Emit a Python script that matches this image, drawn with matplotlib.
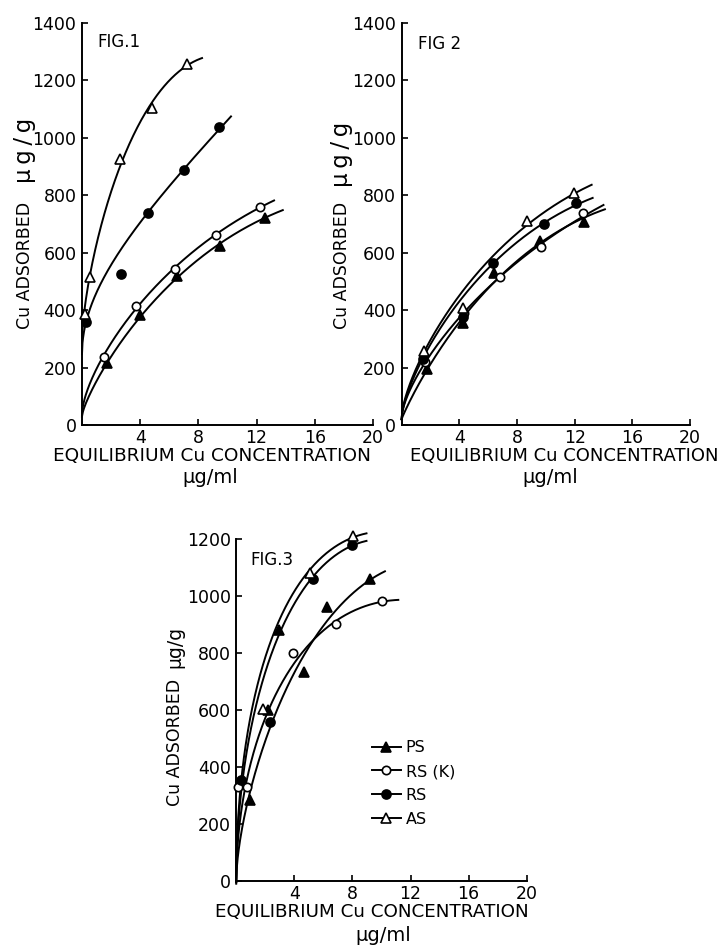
import numpy as np
import matplotlib
matplotlib.use("Agg")
import matplotlib.pyplot as plt
from matplotlib.lines import Line2D

plt.rcParams['font.family'] = ['DejaVu Sans']

# ---------------- data ----------------
series_names = ["PS", "RS (K)", "RS", "AS"]
x_ticks = [4, 8, 12, 16, 20]
y_ticks_12 = [0, 200, 400, 600, 800, 1000, 1200, 1400]
y_ticks_3 = [0, 200, 400, 600, 800, 1000, 1200]

# FIG. 1 measured points
f1_ps_x = [1.72, 4.0, 6.5, 9.5, 12.6]
f1_ps_y = [215, 383, 519, 625, 720]
f1_rsk_x = [1.54, 3.73, 6.41, 9.23, 12.26]
f1_rsk_y = [238, 416, 543, 662, 758]
f1_rs_x = [0.3, 2.68, 4.51, 7.03, 9.4]
f1_rs_y = [360, 526, 740, 888, 1037]
f1_as_x = [0.23, 0.57, 2.63, 4.8, 7.2]
f1_as_y = [385, 517, 925, 1105, 1258]
# FIG. 1 drawn curves (traced)
f1_ps_cx = [0, 1.72, 4.0, 6.5, 9.5, 12.6, 13.8]
f1_ps_cy = [30, 212, 380, 516, 625, 722, 751]
f1_rsk_cx = [0, 1.54, 3.73, 6.41, 9.23, 12.26, 13.2]
f1_rsk_cy = [35, 240, 418, 545, 662, 758, 784]
f1_rs_cx = [0, 0.3, 1.3, 4.51, 7.03, 9.4, 10.24]
f1_rs_cy = [250, 355, 500, 740, 888, 1030, 1075]
f1_as_cx = [0, 0.57, 2.63, 4.8, 7.2, 8.25]
f1_as_cy = [290, 517, 925, 1105, 1250, 1283]

# FIG. 2 measured points
f2_ps_x = [1.74, 4.28, 6.4, 9.6, 12.65]
f2_ps_y = [194, 354, 528, 642, 708]
f2_rsk_x = [1.6, 4.33, 6.8, 9.7, 12.6]
f2_rsk_y = [218, 389, 517, 621, 740]
f2_rs_x = [1.51, 4.24, 6.36, 9.87, 12.1]
f2_rs_y = [230, 377, 563, 700, 772]
f2_as_x = [1.58, 4.28, 8.72, 11.96]
f2_as_y = [259, 406, 711, 807]
# FIG. 2 drawn curves (traced)
f2_ps_cx = [0, 1.74, 4.28, 6.6, 9.6, 12.65, 14.1]
f2_ps_cy = [20, 194, 365, 515, 635, 715, 755]
f2_rsk_cx = [0, 1.6, 4.33, 6.8, 9.7, 12.6, 14.0]
f2_rsk_cy = [20, 215, 392, 517, 625, 738, 760]
f2_rs_cx = [0, 1.51, 4.28, 6.36, 9.87, 12.1, 13.25]
f2_rs_cy = [20, 235, 450, 563, 700, 772, 788]
f2_as_cx = [0, 1.51, 4.28, 6.36, 8.72, 11.96, 13.18]
f2_as_cy = [20, 255, 464, 580, 711, 807, 832]

# FIG. 3 measured points
f3_ps_x = [0.95, 2.2, 2.97, 4.67, 6.23, 9.2]
f3_ps_y = [284, 600, 881, 734, 960, 1059]
f3_rsk_x = [0.15, 0.72, 3.93, 6.85, 10.06]
f3_rsk_y = [330, 331, 799, 902, 982]
f3_rs_x = [0.35, 2.33, 5.3, 7.95]
f3_rs_y = [354, 559, 1059, 1179]
f3_as_x = [1.82, 5.08, 8.02]
f3_as_y = [602, 1082, 1210]
# FIG. 3 drawn curves (traced)
f3_ps_cx = [0, 0.95, 2.33, 3.0, 4.85, 6.3, 9.32, 10.24]
f3_ps_cy = [0, 284, 560, 650, 787, 905, 1062, 1091]
f3_rsk_cx = [0, 0.72, 2.0, 3.0, 4.5, 6.85, 10.06, 11.16]
f3_rsk_cy = [0, 331, 590, 695, 790, 902, 982, 989]
f3_rs_cx = [0, 0.4, 1.2, 2.1, 3.1, 4.3, 5.3, 7.95, 8.97]
f3_rs_cy = [0, 330, 576, 764, 881, 998, 1059, 1179, 1194]
f3_as_cx = [0, 0.3, 0.95, 1.75, 2.67, 3.82, 5.08, 7.83, 8.97]
f3_as_cy = [0, 300, 576, 764, 881, 998, 1080, 1200, 1225]


def smooth_curve(cx, cy, n=300):
    """Least-squares cubic in sqrt(x) through the traced curve points."""
    cx = np.asarray(cx, float)
    cy = np.asarray(cy, float)
    coef = np.polyfit(np.sqrt(cx), cy, 3)
    xs = np.linspace(cx[0], cx[-1], n)
    return xs, np.polyval(coef, np.sqrt(xs))


styles = {
    "PS": dict(marker="^", mfc="black", ms=6.5),
    "RS (K)": dict(marker="o", mfc="white", ms=6.0),
    "RS": dict(marker="o", mfc="black", ms=6.5),
    "AS": dict(marker="^", mfc="white", ms=6.5),
}

W, H = 726, 947
fig = plt.figure(figsize=(W / 100, H / 100), dpi=100)


def px_axes(left, right, top, bottom):
    return fig.add_axes([left / W, 1 - bottom / H, (right - left) / W, (bottom - top) / H])


def setup(ax, ymax, yticks, title, title_xy, xlab, mu_x, ylab, mu_y):
    ax.set_xlim(0, 20)
    ax.set_ylim(0, ymax)
    ax.spines['top'].set_visible(False)
    ax.spines['right'].set_visible(False)
    for s in ('left', 'bottom'):
        ax.spines[s].set_linewidth(1.4)
    ax.set_xticks(x_ticks)
    ax.set_yticks(yticks)
    ax.tick_params(direction='in', length=4, width=1.2, labelsize=12.5, pad=4)
    ax.tick_params(axis='x', pad=3)
    ax.text(title_xy[0], title_xy[1], title, transform=ax.transAxes, fontsize=12,
            ha='left', va='center')
    # x label: (x, y, size)
    ax.text(xlab[0], xlab[1], "EQUILIBRIUM Cu CONCENTRATION", transform=ax.transAxes,
            fontsize=xlab[2], ha='center', va='center')
    ax.text(mu_x[0], mu_x[1], "\u03bcg/ml", transform=ax.transAxes,
            fontsize=14, ha='center', va='center')
    # y label: (x, y_text, y_mu)
    ax.text(ylab[0], ylab[1], "Cu ADSORBED", transform=ax.transAxes,
            fontsize=12.5, ha='center', va='center', rotation=90)
    ax.text(ylab[0], ylab[2], mu_y[0], transform=ax.transAxes,
            fontsize=mu_y[1], ha='center', va='center', rotation=90)


def draw(ax, name, px_, py_, cx, cy):
    xs, ys = smooth_curve(cx, cy)
    ax.plot(xs, ys, color='black', lw=1.4, zorder=2, clip_on=False)
    st = styles[name]
    ax.plot(px_, py_, linestyle='none', marker=st["marker"], mfc=st["mfc"],
            mec='black', mew=1.2, ms=st["ms"], zorder=3, clip_on=False)


wide_mu = "\u03bc\u2009g\u2009/\u2009g"

# FIG 1
ax1 = px_axes(82, 373, 23, 425)
setup(ax1, 1400, y_ticks_12, "FIG.1", (0.052, 0.953),
      (0.447, -0.078, 13.3), (0.44, -0.13), (-0.196, 0.398, 0.683), (wide_mu, 16.5))
draw(ax1, "PS", f1_ps_x, f1_ps_y, f1_ps_cx, f1_ps_cy)
draw(ax1, "RS (K)", f1_rsk_x, f1_rsk_y, f1_rsk_cx, f1_rsk_cy)
draw(ax1, "RS", f1_rs_x, f1_rs_y, f1_rs_cx, f1_rs_cy)
draw(ax1, "AS", f1_as_x, f1_as_y, f1_as_cx, f1_as_cy)

# FIG 2
ax2 = px_axes(401.6, 690, 23, 425)
setup(ax2, 1400, y_ticks_12, "FIG 2", (0.058, 0.948),
      (0.563, -0.078, 13.0), (0.515, -0.13), (-0.207, 0.396, 0.672), (wide_mu, 16.5))
draw(ax2, "PS", f2_ps_x, f2_ps_y, f2_ps_cx, f2_ps_cy)
draw(ax2, "RS (K)", f2_rsk_x, f2_rsk_y, f2_rsk_cx, f2_rsk_cy)
draw(ax2, "RS", f2_rs_x, f2_rs_y, f2_rs_cx, f2_rs_cy)
draw(ax2, "AS", f2_as_x, f2_as_y, f2_as_cx, f2_as_cy)

# FIG 3
ax3 = px_axes(236.2, 526.7, 539, 881)
setup(ax3, 1200, y_ticks_3, "FIG.3", (0.048, 0.94),
      (0.466, -0.092, 13.2), (0.505, -0.158), (-0.211, 0.404, 0.684), ("\u03bcg/g", 13.5))
draw(ax3, "PS", f3_ps_x, f3_ps_y, f3_ps_cx, f3_ps_cy)
draw(ax3, "RS (K)", f3_rsk_x, f3_rsk_y, f3_rsk_cx, f3_rsk_cy)
draw(ax3, "RS", f3_rs_x, f3_rs_y, f3_rs_cx, f3_rs_cy)
draw(ax3, "AS", f3_as_x, f3_as_y, f3_as_cx, f3_as_cy)

handles = [Line2D([0], [0], color='black', lw=1.4, marker=styles[n]["marker"],
                  mfc=styles[n]["mfc"], mec='black', mew=1.2, ms=styles[n]["ms"])
           for n in series_names]
ax3.legend(handles, series_names, loc='upper left', bbox_to_anchor=(0.44, 0.435),
           frameon=False, fontsize=11.5, handlelength=1.8, handletextpad=0.3,
           labelspacing=0.55, borderpad=0)

fig.savefig("out.png", dpi=100, facecolor='white')
